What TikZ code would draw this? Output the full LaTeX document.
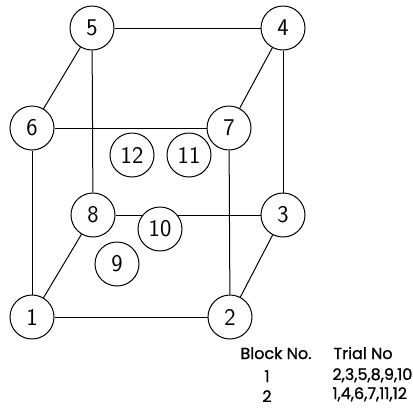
\documentclass[tikz,border=0pt]{standalone}
\usepackage{fontspec}
\newfontfamily\tablefont[FakeBold=1]{Poppins}
\usetikzlibrary{calc}

\begin{document}
\begin{tikzpicture}[x=1pt,y=-1pt,line width=1pt,
		trial/.style={circle,draw,fill=white,minimum size=44pt,inner sep=0pt,
			font=\sffamily\fontsize{24}{24}\selectfont},
		tabtext/.style={anchor=base west,inner sep=0pt,font=\tablefont\fontsize{16}{16}\selectfont}]
		\useasboundingbox (0,0) rectangle (413,408);

		\coordinate (top) at (0,28);
		\coordinate (mid) at (0,128);
		\coordinate (low) at (0,215);
		\coordinate (bot) at (0,317);

		\node[trial] (t5) at ($(top) + (92,0)$) {5};
		\node[trial] (t4) at ($(top) + (283,0)$) {4};
		\node[trial] (t6) at ($(mid) + (32,0)$) {6};
		\node[trial] (t7) at ($(mid) + (229,0)$) {7};
		\node[trial] (t8) at ($(low) + (93,0)$) {8};
		\node[trial] (t3) at ($(low) + (283,0)$) {3};
		\node[trial] (t1) at ($(bot) + (32,0)$) {1};
		\node[trial] (t2) at ($(bot) + (230,0)$) {2};

		\draw (t5) -- (t4);
		\draw (t5) -- (t6);
		\draw (t5) -- (t8);
		\draw (t6) -- (t7);
		\draw (t6) -- (t1);
		\draw (t7) -- (t4);
		\draw (t7) -- (t2);
		\draw (t4) -- (t3);
		\draw (t8) -- (t3);
		\draw (t8) -- (t1);
		\draw (t3) -- (t2);
		\draw (t1) -- (t2);

		\node[trial] (t12) at (132,155) {12};
		\node[trial] (t11) at (189,155) {11};
		\node[trial] (t10) at (160,229) {10};
		\node[trial] (t9) at (117,264) {9};

		\node[tabtext] (blk) at (240,359) {Block No.};
		\node[tabtext] (trl) at (333,359) {Trial No};
		\node[tabtext,anchor=base] (b1) at (267,382) {1};
		\node[tabtext] (r1) at (332,380) {2,3,5,8,9,10};
		\node[tabtext,anchor=base] (b2) at (267,402) {2};
		\node[tabtext] (r2) at (332,399) {1,4,6,7,11,12};
	\end{tikzpicture}
\end{document}
